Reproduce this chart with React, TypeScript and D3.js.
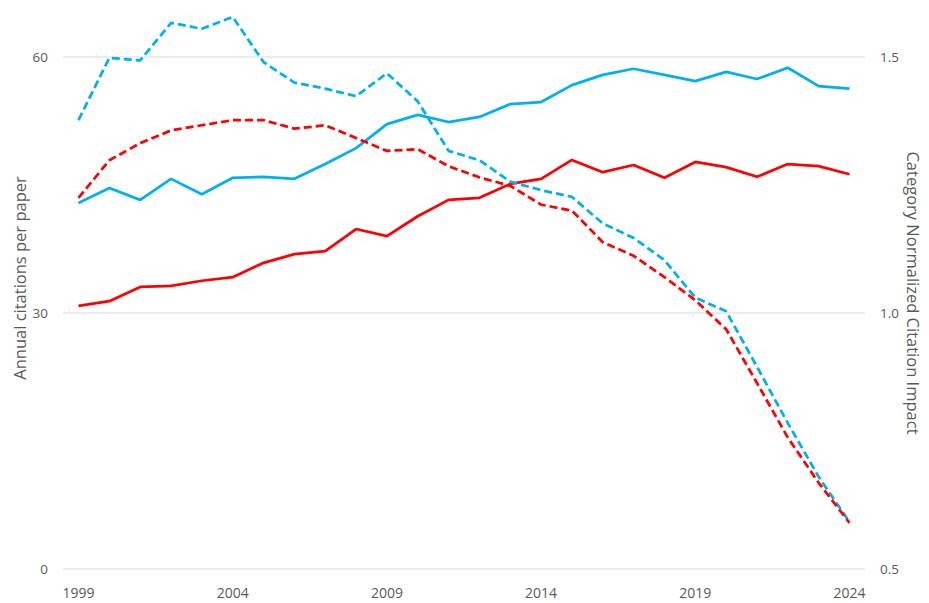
import React from "react";
import * as d3 from "d3";

const years = d3.range(1999, 2025);
const xTickYears = [1999, 2004, 2009, 2014, 2019, 2024];
const leftTicks = [0, 30, 60];
const rightTicks = [0.5, 1.0, 1.5];

// Annual citations per paper (left axis) – dashed
const citationsBlue = [52.6, 59.9, 59.6, 64.0, 63.3, 64.7, 59.4, 57.0, 56.3, 55.4, 58.1, 54.8, 49.0, 47.9, 45.4, 44.4, 43.6, 40.5, 38.8, 36.2, 31.8, 30.2, 23.7, 17.1, 10.8, 5.5];
const citationsRed = [43.5, 47.9, 49.9, 51.4, 52.0, 52.6, 52.6, 51.6, 52.0, 50.5, 49.0, 49.2, 47.2, 45.9, 44.9, 42.7, 42.0, 38.3, 36.7, 34.2, 31.5, 28.1, 21.8, 15.4, 10.1, 5.4];
// Category Normalized Citation Impact (right axis) – solid
const cnciBlue = [1.215, 1.244, 1.221, 1.262, 1.232, 1.264, 1.266, 1.262, 1.291, 1.322, 1.369, 1.387, 1.373, 1.383, 1.408, 1.412, 1.445, 1.465, 1.477, 1.465, 1.453, 1.471, 1.457, 1.479, 1.443, 1.438];
const cnciRed = [1.014, 1.023, 1.051, 1.053, 1.063, 1.070, 1.098, 1.115, 1.121, 1.164, 1.150, 1.189, 1.221, 1.225, 1.252, 1.262, 1.299, 1.275, 1.289, 1.264, 1.295, 1.285, 1.266, 1.291, 1.287, 1.271];

const BLUE = "#00B0F0";
const RED = "#FF0000";
const GRID = "#D9D9D9";
const TEXT = "#595959";
const FONT = "'Open Sans', 'Liberation Sans', sans-serif";

export default function App() {
  const W = 929, H = 603;
  const gridX0 = 63, gridX1 = 865;
  const x = d3.scalePoint<number>().domain(years).range([78.5, 849.5]);
  const yL = d3.scaleLinear().domain([0, 60]).range([569, 57]);
  const yR = d3.scaleLinear().domain([0.5, 1.5]).range([569, 57]);

  const lineL = d3.line<number>().x((_, i) => x(years[i])!).y((d) => yL(d));
  const lineR = d3.line<number>().x((_, i) => x(years[i])!).y((d) => yR(d));

  return (
    <svg width={W} height={H} style={{ position: "absolute", left: 0, top: 0, background: "#fff" }} fontFamily={FONT}>
      {leftTicks.map((t) => (
        <line key={"g" + t} x1={gridX0} x2={gridX1} y1={yL(t)} y2={yL(t)} stroke={GRID} strokeWidth={1} />
      ))}
      {leftTicks.map((t) => (
        <text key={"l" + t} x={48} y={yL(t)} dy="0.35em" textAnchor="end" fontSize={13.5} fill={TEXT}>{t}</text>
      ))}
      {rightTicks.map((t) => (
        <text key={"r" + t} x={880} y={yR(t)} dy="0.35em" textAnchor="start" fontSize={13.5} fill={TEXT}>{t.toFixed(1)}</text>
      ))}
      {xTickYears.map((t) => (
        <text key={"x" + t} x={x(t)} y={598} textAnchor="middle" fontSize={14} fill={TEXT}>{t}</text>
      ))}
      <text transform="translate(26,278) rotate(-90)" textAnchor="middle" fontSize={16.5} fill={TEXT}>Annual citations per paper</text>
      <text transform="translate(907,293) rotate(90)" textAnchor="middle" fontSize={16.5} fill={TEXT}>Category Normalized Citation Impact</text>

      <path d={lineR(cnciBlue)!} fill="none" stroke={BLUE} strokeWidth={2.75} strokeLinejoin="round" />
      <path d={lineR(cnciRed)!} fill="none" stroke={RED} strokeWidth={2.75} strokeLinejoin="round" />
      <path d={lineL(citationsBlue)!} fill="none" stroke={BLUE} strokeWidth={2.75} strokeDasharray="8,4" strokeLinejoin="round" />
      <path d={lineL(citationsRed)!} fill="none" stroke={RED} strokeWidth={2.75} strokeDasharray="8,4" strokeLinejoin="round" />
    </svg>
  );
}
